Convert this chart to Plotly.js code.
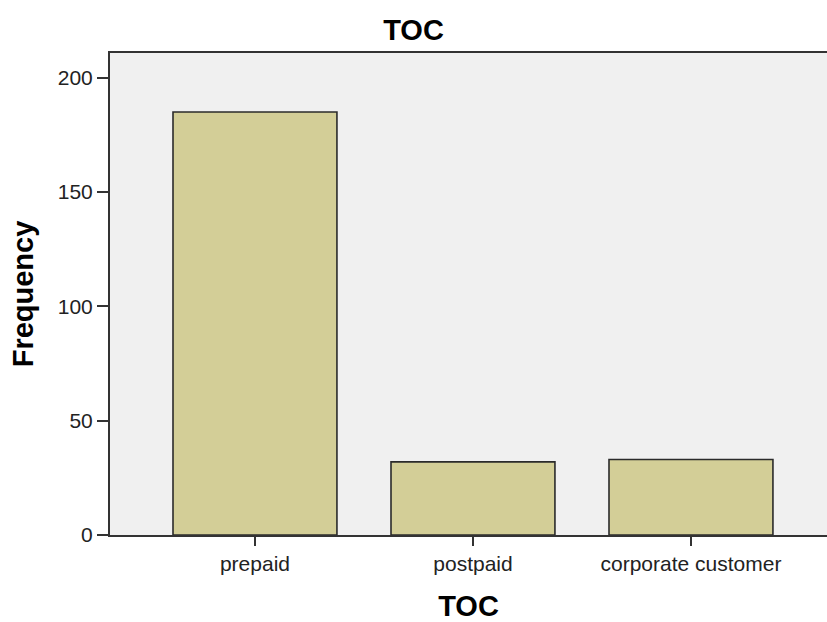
<!DOCTYPE html>
<html>
<head>
<meta charset="utf-8">
<script src="https://cdn.plot.ly/plotly-3.0.1.min.js"></script>
<style>html,body{margin:0;padding:0;background:#fff;}#chart{width:827px;height:622px;}</style>
</head>
<body>
<div id="chart"></div>
<script>
var categories = ["prepaid", "postpaid", "corporate customer"];
var frequencies = [185, 32, 33];
var yTickValues = [0, 50, 100, 150, 200];

var trace = {
  type: "bar",
  x: categories,
  y: frequencies,
  width: 0.752,
  marker: {color: "#D3CE97", line: {color: "#2b2b2b", width: 1.6}},
  hoverinfo: "x+y"
};

var layout = {
  width: 827,
  height: 622,
  margin: {l: 110, r: 0, t: 53, b: 87},
  paper_bgcolor: "#ffffff",
  plot_bgcolor: "#F0F0F0",
  showlegend: false,
  font: {family: "Liberation Sans, Arial, sans-serif", color: "#222"},
  title: {text: "<b>TOC</b>", x: 0.5, xanchor: "center", y: 0.952, yanchor: "middle",
          font: {size: 29, color: "#000", family: "Liberation Sans, Arial, sans-serif"}},
  xaxis: {
    type: "category",
    range: [-0.665, 2.624],
    showline: true, linecolor: "#333", linewidth: 2, mirror: true,
    ticks: "outside", ticklen: 9, tickwidth: 2, tickcolor: "#333",
    tickfont: {size: 21, color: "#222"},
    showgrid: false, zeroline: false,
    title: {text: "<b>TOC</b>", standoff: 24, font: {size: 29, color: "#000"}}
  },
  yaxis: {
    range: [0, 210.8],
    tickvals: yTickValues,
    showline: true, linecolor: "#333", linewidth: 2,
    ticks: "outside", ticklen: 11, tickwidth: 2, tickcolor: "#333",
    tickfont: {size: 21, color: "#222"},
    showgrid: false, zeroline: false,
    title: {text: "<b>Frequency</b>", standoff: 16, font: {size: 29, color: "#000"}}
  },
  bargap: 0.25
};

Plotly.newPlot("chart", [trace], layout, {displayModeBar: false, staticPlot: true});
</script>
</body>
</html>
